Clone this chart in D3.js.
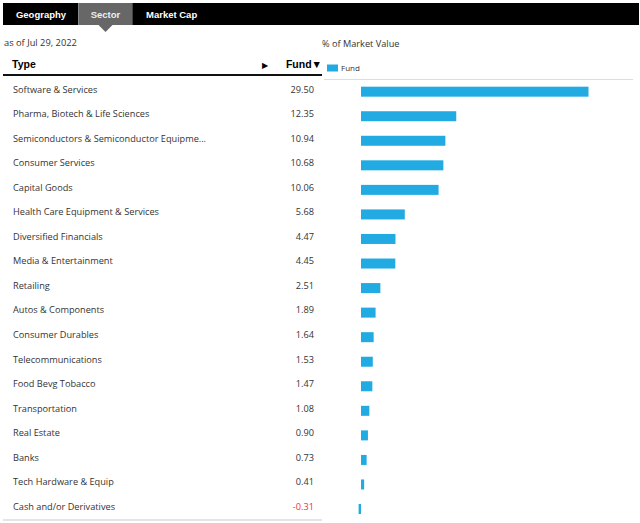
<!DOCTYPE html>
<html><head><meta charset="utf-8">
<script src="https://cdn.jsdelivr.net/npm/d3@7"></script>
<style>
html,body{margin:0;padding:0;background:#fff;}
svg{display:block;}
</style></head>
<body>
<svg id="chart" width="640" height="523"></svg>
<script>
const tabs = ["Geography", "Sector", "Market Cap"];
const activeTab = "Sector";
const asOf = "as of Jul 29, 2022";
const categories = [
  "Software & Services",
  "Pharma, Biotech & Life Sciences",
  "Semiconductors & Semiconductor Equipme...",
  "Consumer Services",
  "Capital Goods",
  "Health Care Equipment & Services",
  "Diversified Financials",
  "Media & Entertainment",
  "Retailing",
  "Autos & Components",
  "Consumer Durables",
  "Telecommunications",
  "Food Bevg Tobacco",
  "Transportation",
  "Real Estate",
  "Banks",
  "Tech Hardware & Equip",
  "Cash and/or Derivatives"
];
const fundValues = [29.50, 12.35, 10.94, 10.68, 10.06, 5.68, 4.47, 4.45, 2.51, 1.89, 1.64, 1.53, 1.47, 1.08, 0.90, 0.73, 0.41, -0.31];

const svg = d3.select("#chart");
const font = "'Open Sans', 'Noto Sans', sans-serif";
const tabFont = "'Liberation Sans', Arial, sans-serif";

// Tab bar
const tabX = d3.scaleOrdinal().domain(tabs).range([[3, 78], [79, 132], [133, 639]]);
const tabG = svg.append("g");
tabs.forEach(t => {
  const [x0, x1] = tabX(t);
  tabG.append("rect").attr("x", x0).attr("y", 3).attr("width", x1 - x0).attr("height", 22)
    .attr("fill", t === activeTab ? "#676767" : "#000");
});
tabG.append("line").attr("x1", 78.5).attr("x2", 78.5).attr("y1", 3).attr("y2", 25).attr("stroke", "#888");
tabG.append("line").attr("x1", 132.5).attr("x2", 132.5).attr("y1", 3).attr("y2", 25).attr("stroke", "#444");
{
  const [x0, x1] = tabX(activeTab);
  const cx = (x0 + x1) / 2;
  tabG.append("path").attr("d", `M${cx - 7},25 L${cx + 7},25 L${cx},32 Z`).attr("fill", "#676767");
}
const tabTextX = {"Geography": 41, "Sector": 105.5, "Market Cap": 146};
tabs.forEach(t => {
  tabG.append("text").attr("x", tabTextX[t]).attr("y", 17.5)
    .attr("text-anchor", t === "Market Cap" ? "start" : "middle")
    .attr("font-family", tabFont).attr("font-weight", "bold").attr("font-size", 9.5)
    .attr("fill", t === activeTab ? "#eee" : "#fff").text(t);
});

// Header texts
svg.append("text").attr("x", 4).attr("y", 46).attr("font-family", font).attr("font-size", 9.3)
  .attr("fill", "#333").text(asOf);
svg.append("text").attr("x", 322).attr("y", 47).attr("font-family", font).attr("font-size", 9.2)
  .attr("fill", "#333").text("% of Market Value");

svg.append("text").attr("x", 12).attr("y", 68).attr("font-family", tabFont).attr("font-weight", "bold")
  .attr("font-size", 10.5).attr("fill", "#000").text("Type");
svg.append("text").attr("x", 262).attr("y", 68).attr("font-family", font)
  .attr("font-size", 8).attr("fill", "#000").text("\u25B6");
svg.append("text").attr("x", 322).attr("y", 68).attr("text-anchor", "end").attr("font-family", tabFont).attr("font-weight", "bold")
  .attr("font-size", 10.5).attr("fill", "#000").text("Fund\u25BC");
svg.append("rect").attr("x", 3).attr("y", 74).attr("width", 319).attr("height", 2).attr("fill", "#111");

// Legend
svg.append("rect").attr("x", 327).attr("y", 64.5).attr("width", 11).attr("height", 7).attr("fill", "#21abe2");
svg.append("text").attr("x", 341).attr("y", 71).attr("font-family", font).attr("font-size", 8)
  .attr("fill", "#333").text("Fund");
svg.append("rect").attr("x", 324).attr("y", 79).attr("width", 309).attr("height", 1).attr("fill", "#ddd");

// Scales
const y = d3.scaleBand().domain(categories).range([77, 77 + 24.55 * categories.length]).padding(0);
const x = d3.scaleLinear().domain([0, d3.max(fundValues)]).range([361, 588.5]);

const rows = svg.append("g").selectAll("g").data(categories).join("g")
  .attr("transform", d => `translate(0,${y(d) + y.bandwidth() / 2})`);

rows.append("text").attr("x", 13).attr("dy", "0.35em").attr("font-family", font).attr("font-size", 9.2)
  .attr("fill", "#333").text(d => d);
rows.append("text").attr("x", 314).attr("dy", "0.35em").attr("text-anchor", "end").attr("font-family", font)
  .attr("font-size", 9.2).attr("fill", (d, i) => fundValues[i] < 0 ? "#f0323a" : "#333")
  .text((d, i) => fundValues[i].toFixed(2));

rows.append("rect")
  .attr("x", (d, i) => Math.min(x(0), x(fundValues[i])))
  .attr("y", -2.6)
  .attr("width", (d, i) => Math.abs(x(fundValues[i]) - x(0)))
  .attr("height", 10)
  .attr("fill", "#21abe2");

// bottom line
svg.append("rect").attr("x", 3).attr("y", 519).attr("width", 319).attr("height", 2).attr("fill", "#e4e4e4");
</script>
</body></html>
